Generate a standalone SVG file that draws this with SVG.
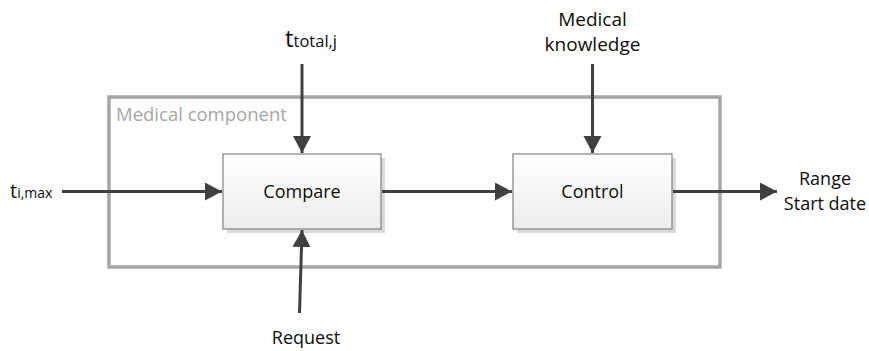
<svg xmlns="http://www.w3.org/2000/svg" width="869" height="351" viewBox="0 0 869 351">
  <defs>
    <linearGradient id="boxFill" x1="0" y1="0" x2="0" y2="1">
      <stop offset="0" stop-color="#FFFFFF"/>
      <stop offset="1" stop-color="#ECECEC"/>
    </linearGradient>
    <marker id="arrow" markerUnits="userSpaceOnUse" markerWidth="20" markerHeight="20" refX="17" refY="9" orient="auto">
      <path d="M0,0 L17,9 L0,18 Z" fill="#404040"/>
    </marker>
    <style>
      text { font-family: "Open Sans", "Noto Sans", "Liberation Sans", sans-serif; fill: #0D0D0D; }
      .lbl { font-size: 18px; }
      .big { font-size: 19px; }
      .sub { font-size: 14px; }
      .group-title { font-size: 18.5px; fill: #A6A6A6; }
      .block { fill: url(#boxFill); stroke: #808080; stroke-width: 1.2; }
      .shadow { fill: #D9D9D9; }
      .link { stroke: #404040; stroke-width: 3; fill: none; marker-end: url(#arrow); }
    </style>
  </defs>
  <rect width="869" height="351" fill="#FFFFFF"/>

  <!-- enclosing component frame -->
  <g id="medical-component">
    <rect x="109" y="97" width="611" height="170" fill="none" stroke="#A6A6A6" stroke-width="3.5"/>
    <text class="group-title" x="116" y="121">Medical component</text>
  </g>

  <g id="compare">
    <rect class="shadow" x="227" y="158" width="158" height="75"/>
    <rect class="block" x="223" y="154" width="158" height="75"/>
    <text class="lbl" x="302" y="198" text-anchor="middle">Compare</text>
  </g>

  <g id="control">
    <rect class="shadow" x="517" y="158" width="159" height="75"/>
    <rect class="block" x="513" y="154" width="159" height="75"/>
    <text class="lbl" x="592.5" y="198" text-anchor="middle">Control</text>
  </g>

  <g id="input-ttotal">
    <text x="285" y="47"><tspan font-size="24">t</tspan><tspan font-size="16.5">total,j</tspan></text>
  </g>

  <g id="input-timax">
    <text x="10" y="198"><tspan font-size="20">t</tspan><tspan class="sub">i,max</tspan></text>
  </g>

  <g id="input-knowledge">
    <text class="big" x="592.5" y="26" text-anchor="middle">Medical</text>
    <text class="big" x="592.5" y="51" text-anchor="middle">knowledge</text>
  </g>

  <g id="input-request">
    <text class="lbl" x="306" y="344" text-anchor="middle">Request</text>
  </g>

  <g id="output-range">
    <text class="lbl" x="825" y="185" text-anchor="middle">Range</text>
    <text class="lbl" x="825" y="210" text-anchor="middle">Start date</text>
  </g>

  <g id="connectors">
    <line class="link" x1="302" y1="64" x2="302" y2="153"/>
    <line class="link" x1="592.5" y1="64" x2="592.5" y2="153"/>
    <line class="link" x1="62" y1="191.5" x2="222" y2="191.5"/>
    <line class="link" x1="382" y1="191.5" x2="512" y2="191.5"/>
    <line class="link" x1="673" y1="191.5" x2="777" y2="191.5"/>
    <line class="link" x1="299.5" y1="313" x2="302" y2="230"/>
  </g>
</svg>
